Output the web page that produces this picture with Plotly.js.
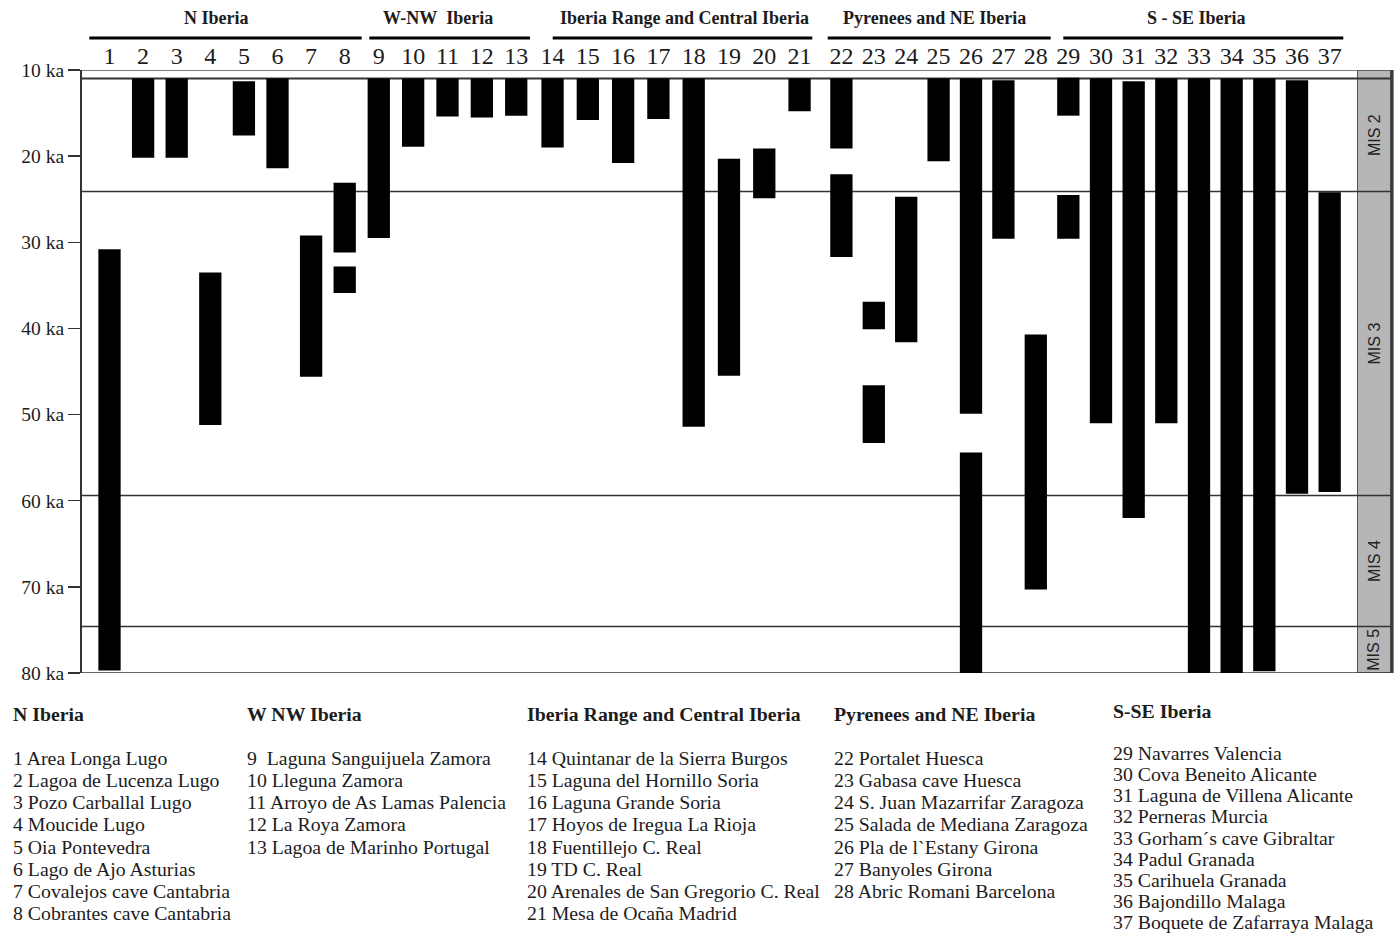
<!DOCTYPE html>
<html>
<head>
<meta charset="utf-8">
<script src="https://cdn.plot.ly/plotly-3.0.1.min.js"></script>
<style>
  html, body { margin: 0; padding: 0; background: #fff; }
  #chart { width: 1397px; height: 940px; }
</style>
</head>
<body>
<div id="chart"></div>
<script>
// ---- Site catalogue ----
const siteNames = [
  "Area Longa Lugo", "Lagoa de Lucenza Lugo", "Pozo Carballal Lugo", "Moucide Lugo",
  "Oia Pontevedra", "Lago de Ajo Asturias", "Covalejos cave Cantabria", "Cobrantes cave Cantabria",
  "\u00a0Laguna Sanguijuela Zamora", "Lleguna Zamora", "Arroyo de As Lamas Palencia", "La Roya Zamora",
  "Lagoa de Marinho Portugal",
  "Quintanar de la Sierra Burgos", "Laguna del Hornillo Soria", "Laguna Grande Soria",
  "Hoyos de Iregua La Rioja", "Fuentillejo C. Real", "TD C. Real", "Arenales de San Gregorio C. Real",
  "Mesa de Ocaña Madrid",
  "Portalet Huesca", "Gabasa cave Huesca", "S. Juan Mazarrifar Zaragoza", "Salada de Mediana Zaragoza",
  "Pla de l`Estany Girona", "Banyoles Girona", "Abric Romani Barcelona",
  "Navarres Valencia", "Cova Beneito Alicante", "Laguna de Villena Alicante", "Perneras Murcia",
  "Gorham´s cave Gibraltar", "Padul Granada", "Carihuela Granada", "Bajondillo Malaga",
  "Boquete de Zafarraya Malaga"
];

// Regions: banner titles, list titles and the first site number of each region
const regionBanner = ["N Iberia", "W-NW\u00a0 Iberia", "Iberia Range and Central Iberia", "Pyrenees and NE Iberia", "S - SE Iberia"];
const regionListTitle = ["N Iberia", "W NW Iberia", "Iberia Range and Central Iberia", "Pyrenees and NE Iberia", "S-SE Iberia"];
const regionFirstSite = [1, 9, 14, 22, 29];

// Record intervals (ka): youngest and oldest age of the main record of each site
const recordYoung = [
  30.8, 11.0, 11.0, 33.5, 11.3, 11.0, 29.2, 23.1,
  11.0, 11.0, 11.0, 11.0, 11.0,
  11.0, 11.0, 11.0, 11.0, 11.0, 20.3, 19.1, 11.0,
  11.0, 36.9, 24.7, 11.0, 11.0, 11.2, 40.7,
  10.9, 11.0, 11.3, 11.0, 11.0, 11.0, 11.0, 11.2, 24.2
];
const recordOld = [
  79.7, 20.2, 20.2, 51.2, 17.6, 21.4, 45.6, 31.2,
  29.5, 18.9, 15.4, 15.5, 15.3,
  19.0, 15.8, 20.8, 15.7, 51.4, 45.5, 24.9, 14.8,
  19.1, 40.1, 41.6, 20.6, 49.9, 29.6, 70.3,
  15.3, 51.0, 62.0, 51.0, 80.0, 80.0, 79.8, 59.2, 59.0
];

// Sites with a second, older record interval
const secondSite = [8, 22, 23, 26, 29];
const secondYoung = [32.8, 22.1, 46.6, 54.4, 24.5];
const secondOld = [35.9, 31.7, 53.3, 80.0, 29.6];

// Marine isotope stages: boundaries (ka) and labels
const misBounds = [11.0, 24.1, 59.4, 74.6, 80.0];
const misLabels = ["MIS 2", "MIS 3", "MIS 4", "MIS 5"];

// Age axis ticks
const ageTicks = [10, 20, 30, 40, 50, 60, 70, 80];
const ageTickText = ageTicks.map(v => v + " ka");

// ---- Layout geometry (pixels) ----
const L = 80, R = 1393, T = 70, B = 673;
const W = R - L, H = B - T;
const px = x => (x - L) / W;
const py = y => (B - y) / H;

const SERIF = "Liberation Serif, Times New Roman, Times, serif";
const SANS = "Liberation Sans, Arial, Helvetica, sans-serif";
const INK = "#1c1c1c";

// horizontal span of each region panel
const panelSpan = [[92.7, 361.5], [361.6, 533.4], [534.9, 817.2], [825.2, 1052.0], [1052.0, 1346.0]];
const barPx = 22.3;
// banner text centres and underline extents
const bannerCenter = [216.5, 437.5, 684.7, 934.0, 1196.0];
const bannerLine = [[89.3, 361.7], [369.3, 530.0], [552.7, 812.3], [827.7, 1050.7], [1063.3, 1343.3]];
// list columns
const listX = [10.5, 245.0, 525.0, 832.0, 1111.0];
const listTitleY = [714, 714, 714, 714, 710.5];
const listFirstY = [758.3, 758.3, 758.3, 758.3, 753.3];
const listStep = [22.06, 22.06, 22.06, 22.06, 21.05];

const traces = [];
const layout = {
  width: 1397, height: 940,
  margin: { l: L, r: 1397 - R, t: T, b: 940 - B, pad: 0 },
  paper_bgcolor: "#ffffff",
  plot_bgcolor: "#ffffff",
  showlegend: false,
  barmode: "overlay",
  font: { family: SERIF, color: INK },
  yaxis: {
    range: [80, 10],
    anchor: "free", position: 0,
    tickvals: ageTicks, ticktext: ageTickText,
    ticks: "outside", ticklen: 12, tickwidth: 1.5, tickcolor: "#333",
    showline: true, linecolor: "#333", linewidth: 1.5,
    showgrid: false, zeroline: false,
    tickfont: { family: SERIF, size: 19.5, color: INK },
    fixedrange: true
  },
  shapes: [],
  annotations: []
};

const nRegions = regionFirstSite.length;
for (let k = 0; k < nRegions; k++) {
  const first = regionFirstSite[k];
  const last = k + 1 < nRegions ? regionFirstSite[k + 1] - 1 : siteNames.length;
  const labels = [];
  const young = [], span = [];
  for (let s = first; s <= last; s++) {
    labels.push(String(s));
    young.push(recordYoung[s - 1]);
    span.push(recordOld[s - 1] - recordYoung[s - 1]);
  }
  const n = labels.length;
  const [a, b] = panelSpan[k];
  const spacing = (b - a) / n;
  const axName = k === 0 ? "xaxis" : "xaxis" + (k + 1);
  const axRef = k === 0 ? "x" : "x" + (k + 1);

  layout[axName] = {
    domain: [px(a), px(b)],
    anchor: "y",
    side: "top",
    type: "category",
    categoryorder: "array",
    categoryarray: labels,
    range: [-0.5, n - 0.5],
    ticks: "",
    showline: false, showgrid: false, zeroline: false,
    tickfont: { family: SERIF, size: 24, color: INK },
    fixedrange: true
  };

  traces.push({
    type: "bar", x: labels, base: young, y: span,
    xaxis: axRef, yaxis: "y",
    width: barPx / spacing,
    marker: { color: "#000000", line: { width: 0 } },
    hovertemplate: "Site %{x}<br>%{base:.1f}–%{value:.1f} ka<extra></extra>"
  });

  const sx = [], sb = [], sy = [];
  secondSite.forEach((s, i) => {
    if (s >= first && s <= last) {
      sx.push(String(s));
      sb.push(secondYoung[i]);
      sy.push(secondOld[i] - secondYoung[i]);
    }
  });
  if (sx.length) {
    traces.push({
      type: "bar", x: sx, base: sb, y: sy,
      xaxis: axRef, yaxis: "y",
      width: barPx / spacing,
      marker: { color: "#000000", line: { width: 0 } },
      hovertemplate: "Site %{x}<br>%{base:.1f}–%{value:.1f} ka<extra></extra>"
    });
  }

  // region banner above the site numbers
  layout.annotations.push({
    xref: "paper", yref: "paper", x: px(bannerCenter[k]), y: py(18),
    xanchor: "center", yanchor: "middle", showarrow: false,
    text: "<b>" + regionBanner[k] + "</b>",
    font: { family: SERIF, size: 18, color: INK }
  });
  layout.shapes.push({
    type: "line", xref: "paper", yref: "paper",
    x0: px(bannerLine[k][0]), x1: px(bannerLine[k][1]), y0: py(38), y1: py(38),
    line: { color: "#000", width: 3 }
  });

  // site list below the chart
  layout.annotations.push({
    xref: "paper", yref: "paper", x: px(listX[k]), y: py(listTitleY[k]),
    xanchor: "left", yanchor: "middle", showarrow: false,
    text: "<b>" + regionListTitle[k] + "</b>",
    font: { family: SERIF, size: 19.8, color: INK }
  });
  for (let s = first; s <= last; s++) {
    layout.annotations.push({
      xref: "paper", yref: "paper", x: px(listX[k]), y: py(listFirstY[k] + (s - first) * listStep[k]),
      xanchor: "left", yanchor: "middle", showarrow: false,
      text: s + " " + siteNames[s - 1],
      font: { family: SERIF, size: 19.8, color: INK }
    });
  }
}

// frame lines: top of the age axis, stage boundaries and base
const misX0 = px(1357.5), misX1 = px(1390.5);
layout.shapes.push({
  type: "rect", xref: "paper", yref: "y", x0: misX0, x1: misX1, y0: 10, y1: 80,
  fillcolor: "#b6b6b6", line: { color: "#555", width: 1 }, layer: "below"
});
layout.shapes.push({
  type: "line", xref: "paper", yref: "y", x0: misX1 + 0.0012, x1: misX1 + 0.0012, y0: 10, y1: 80,
  line: { color: "#3a3a3a", width: 3 }, layer: "below"
});
layout.shapes.push({
  type: "line", xref: "paper", yref: "y", x0: 0, x1: misX1, y0: 10, y1: 10,
  line: { color: "#555", width: 1.5 }, layer: "below"
});
misBounds.forEach((v, i) => {
  layout.shapes.push({
    type: "line", xref: "paper", yref: "y", x0: 0, x1: misX1, y0: v, y1: v,
    line: { color: "#333", width: i === 0 ? 2 : 1.5 }, layer: "below"
  });
});
misLabels.forEach((lab, i) => {
  layout.annotations.push({
    xref: "paper", yref: "y", x: (misX0 + misX1) / 2, y: (misBounds[i] + misBounds[i + 1]) / 2,
    xanchor: "center", yanchor: "middle", showarrow: false, textangle: -90,
    text: lab, font: { family: SANS, size: 16, color: "#222" }
  });
});

Plotly.newPlot("chart", traces, layout, { displayModeBar: false, staticPlot: true });
</script>
</body>
</html>
